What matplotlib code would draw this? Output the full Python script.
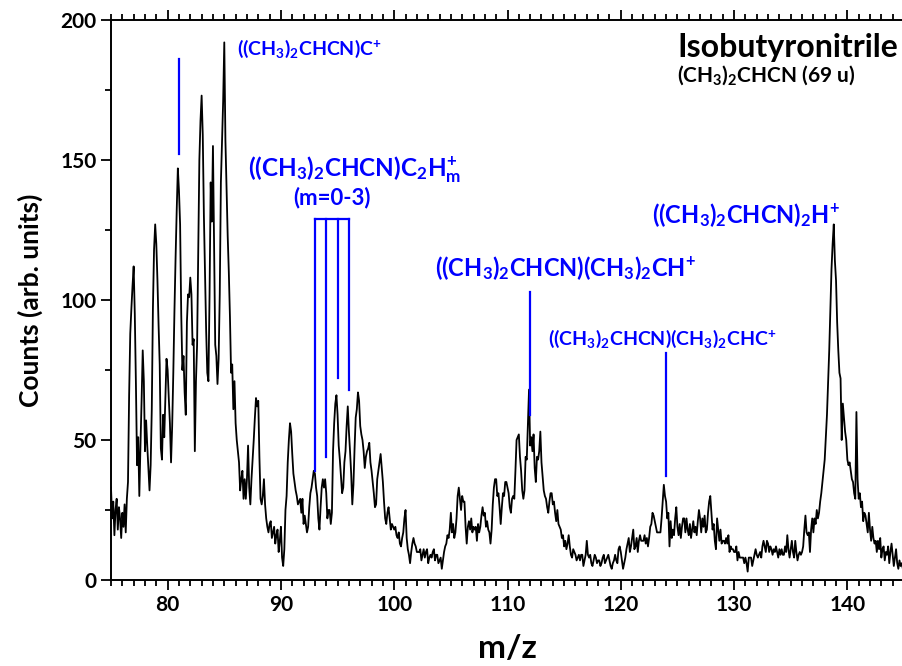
import numpy as np
import matplotlib
matplotlib.use("Agg")
import matplotlib.pyplot as plt
from matplotlib.ticker import MultipleLocator

plt.rcParams["font.family"] = ["Lato", "DejaVu Sans"]
plt.rcParams["font.weight"] = "bold"
plt.rcParams["mathtext.fontset"] = "custom"
plt.rcParams["mathtext.rm"] = "Lato:bold"
plt.rcParams["mathtext.it"] = "Lato:bold"
plt.rcParams["mathtext.bf"] = "Lato:bold"
plt.rcParams["mathtext.default"] = "rm"

# Spectrum recorded on a 0.1 u grid, stored in consecutive segments
seg_a_start = 75.0
seg_a = [33, 22, 28, 16, 25, 29, 18, 26, 22, 15, 24, 19, 27, 17, 29,
         35, 66, 88, 97, 105, 112, 95, 70, 41, 51,
         30, 48, 64, 82, 71, 46, 57, 48, 40, 32,
         41, 61, 97, 118, 127, 120, 107, 91, 77, 47,
         43, 59, 51, 65, 79, 75, 65, 56, 42, 55,
         74, 96, 115, 132, 147, 139, 127, 95, 75, 80,
         67, 59, 92, 102, 101, 108, 102, 84, 86, 46,
         71, 84, 117, 150, 164, 173, 159, 130, 110, 89,
         74, 71, 102, 142, 128, 155, 120, 84, 80, 70,
         79, 102, 142, 156, 171, 192, 157, 140, 123, 110,
         94, 74, 77, 61, 71, 56, 50, 46, 42, 32,
         36, 39, 29, 36, 29, 36, 48, 33, 27, 36,
         43, 50, 58, 65, 62, 64]

seg_b_start = 88.1
seg_b = [44, 29, 27, 30, 36, 27, 22, 19, 17, 20,
         21, 15, 17, 19, 13, 16, 18, 10, 14, 19,
         8, 5, 11, 25, 30, 42, 50, 56, 53, 45,
         38, 35, 32, 30, 27, 28, 29, 24, 29, 20,
         23, 20, 17, 19, 26, 31, 33, 36, 39, 38,
         33, 30, 22, 18, 26, 33, 36, 33, 36, 31,
         22, 25, 25, 20, 24, 46, 56, 63, 66, 59,
         48, 43, 37, 31, 33, 42, 46, 55, 62, 53,
         46, 38, 27, 34, 47, 58, 61, 67, 64, 55,
         52, 50, 46, 40, 44, 46, 47, 49, 42, 39,
         35, 31, 26, 27, 36, 39, 42, 45, 40, 35,
         28, 22, 20, 24, 26, 22, 18, 20, 19, 18,
         19, 16, 15, 17, 13, 12, 15, 17, 22, 25,
         15, 11, 9, 6, 10, 13, 15, 13, 12, 10]

seg_c_start = 102.1
seg_c = [10, 10, 11, 7, 9, 11, 8, 10, 11, 6,
         8, 9, 8, 10, 11, 7, 9, 9, 6, 7,
         8, 4, 7, 10, 12, 13, 16, 15, 18, 24,
         17, 20, 15, 17, 22, 30, 33, 29, 25, 30,
         28, 28, 19, 13, 19, 21, 18, 22, 17, 19,
         18, 19, 14, 20, 17, 19, 23, 26, 23, 24,
         19, 21, 18, 17, 13, 18, 27, 33, 36, 36,
         30, 31, 26, 20, 26, 31, 30, 35, 35, 33,
         31, 26, 24, 29, 30, 29, 39, 50, 51, 52,
         44, 39, 32, 29, 32, 44, 43, 55, 68, 48,
         51, 46, 52, 40, 35, 44, 43, 46, 53, 42,
         37, 32, 30, 29, 26, 24, 28, 31, 31, 27,
         28, 24, 21, 25, 20, 19, 18, 15, 16, 12,
         14, 11, 13, 16, 12, 9, 8, 11, 10, 9,
         7, 8, 9, 7, 9, 9, 5, 7, 9, 14,
         9, 8, 9, 6, 5, 7, 9, 8, 6, 7,
         7, 5, 6, 8, 9, 6, 7, 8, 9, 7,
         5, 4, 6, 7, 9]

seg_d_start = 119.6
seg_d = [7, 6, 11, 12, 10, 7, 4, 6, 8, 11,
         13, 15, 10, 12, 15, 18, 11, 12, 15, 10,
         14, 16, 14, 14, 14, 16, 13, 15, 12, 15,
         19, 20, 24, 23, 21, 19, 17, 17, 17, 17,
         22, 28, 34, 30, 28, 22, 24, 12, 21, 15,
         18, 16, 22, 26, 19, 16, 20, 15, 19, 22,
         22, 17, 22, 18, 16, 20, 15, 18, 21, 17,
         19, 16, 21, 25, 22, 17, 22, 19, 23, 17,
         18, 24, 28, 30, 24, 18, 20, 14, 11, 22,
         18, 14, 18, 13, 14, 14, 13, 15, 13, 16,
         10, 12, 11, 11, 10, 10, 12, 7, 10, 8,
         8, 8, 8, 6, 8, 6, 3, 8, 8, 8,
         5, 7, 9, 11, 9, 8, 9, 10, 8, 12,
         14, 12, 10, 14, 13, 10, 12, 11, 9, 11,
         10, 12, 10, 8, 11, 9, 11, 9, 9, 12,
         10, 16, 11, 8, 11, 14, 10, 8, 14, 10,
         7, 9, 10, 9, 10, 12, 18, 23, 17, 16,
         17]

seg_e_start = 136.7
seg_e = [10, 18, 22, 17, 22, 20, 25, 22, 24, 28,
         31, 35, 39, 43, 51, 59, 70, 82, 97, 111,
         120, 127, 114, 107, 92, 82, 74, 72, 50, 63,
         58, 53, 50, 43, 41, 42, 39, 36, 35, 31,
         29, 60, 36, 29, 31, 26, 28, 21, 24, 23,
         20, 17, 24, 18, 14, 19, 15, 13, 14, 10,
         14, 11, 15, 8, 11, 12, 7, 10, 9, 12,
         6, 10, 13, 9, 5, 8, 11, 6, 4, 7,
         5, 6, 4, 5]

segments = [(seg_a_start, seg_a), (seg_b_start, seg_b), (seg_c_start, seg_c),
            (seg_d_start, seg_d), (seg_e_start, seg_e)]
mz = np.concatenate([start + 0.1 * np.arange(len(vals)) for start, vals in segments])
counts = np.concatenate([np.asarray(vals, float) for _, vals in segments])

# Assigned peak markers: (m/z, lower end, upper end)
marker_81 = (81, 152, 186)
bracket_masses = [93, 94, 95, 96]
bracket_bottoms = [39, 44, 72, 68]
bracket_top = 129
marker_112 = (112, 59, 103)
marker_124 = (124, 37, 81)

blue = "#0000ff"

fig = plt.figure(figsize=(9.02, 6.66), dpi=100)
ax = fig.add_axes([111 / 902, 86 / 666, 793 / 902, 560 / 666])

ax.plot(mz, counts, color="black", lw=1.3)

ax.set_xlim(75, 145)
ax.set_ylim(0, 200)
ax.xaxis.set_major_locator(MultipleLocator(10))
ax.xaxis.set_minor_locator(MultipleLocator(1))
ax.yaxis.set_major_locator(MultipleLocator(50))
ax.yaxis.set_minor_locator(MultipleLocator(25))
ax.tick_params(which="both", direction="out", width=1.3, top=True, right=False,
               labelsize=15)
ax.tick_params(which="major", length=7)
ax.tick_params(which="minor", length=4)
for lab in ax.get_xticklabels() + ax.get_yticklabels():
    lab.set_fontweight("bold")
for side in ["left", "bottom", "top", "right"]:
    ax.spines[side].set_linewidth(1.4)

ax.set_xlabel("m/z", fontsize=24, fontweight="bold", labelpad=14)
ax.set_ylabel("Counts (arb. units)", fontsize=19, fontweight="bold", labelpad=12)

# peak markers
ax.plot([marker_81[0]] * 2, marker_81[1:], color=blue, lw=1.6)
ax.plot([bracket_masses[0], bracket_masses[-1]], [bracket_top] * 2, color=blue, lw=1.6)
for m, b in zip(bracket_masses, bracket_bottoms):
    ax.plot([m, m], [b, bracket_top], color=blue, lw=1.6)
ax.plot([marker_112[0]] * 2, marker_112[1:], color=blue, lw=1.6)
ax.plot([marker_124[0]] * 2, marker_124[1:], color=blue, lw=1.6)

# peak assignments
ax.text(86.1, 187.5, r"((CH$_3$)$_2$CHCN)C$^{\!+}$", color=blue, fontsize=14,
        ha="left", va="baseline")
ax.text(87.1, 144, r"((CH$_3$)$_2$CHCN)C$_2$H$^{\!+}_{m}$", color=blue, fontsize=17.5,
        ha="left", va="baseline")
ax.text(94.5, 134, "(m=0-3)", color=blue, fontsize=16, ha="center", va="baseline")
ax.text(103.6, 108.5, r"((CH$_3$)$_2$CHCN)(CH$_3$)$_2$CH$^{\!+}$", color=blue,
        fontsize=17, ha="left", va="baseline")
ax.text(113.6, 84, r"((CH$_3$)$_2$CHCN)(CH$_3$)$_2$CHC$^{\!+}$", color=blue,
        fontsize=14, ha="left", va="baseline")
ax.text(122.75, 127.5, r"((CH$_3$)$_2$CHCN)$_2$H$^{\!+}$", color=blue, fontsize=17,
        ha="left", va="baseline")

ax.text(125.0, 186.8, "Isobutyronitrile", color="black", fontsize=23,
        ha="left", va="baseline")
ax.text(125.0, 178.0, r"(CH$_3$)$_2$CHCN (69 u)", color="black", fontsize=15,
        ha="left", va="baseline")

fig.savefig("out.png", dpi=100)
